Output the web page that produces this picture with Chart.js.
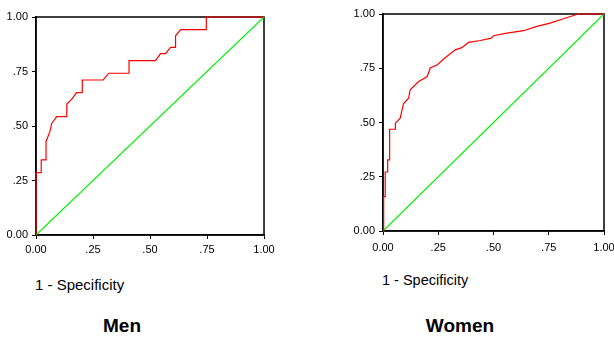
<!DOCTYPE html>
<html>
<head>
<meta charset="utf-8">
<script src="https://cdn.jsdelivr.net/npm/chart.js@4/dist/chart.umd.min.js"></script>
<style>
  html, body { margin: 0; padding: 0; background: #fff; overflow: hidden; width: 614px; height: 337px; }
  .box { position: absolute; }
  .axisTitle { position: absolute; font-family: Arial, "Liberation Sans", sans-serif; font-size: 15px; color: #000; white-space: nowrap; }
  .panelTitle { position: absolute; font-family: Arial, "Liberation Sans", sans-serif; font-size: 19px; font-weight: bold; color: #000; white-space: nowrap; transform: translateX(-50%); }
</style>
</head>
<body>
<div class="box" style="left:0;top:0;width:300px;height:262px"><canvas id="menChart"></canvas></div>
<div class="box" style="left:330px;top:0;width:300px;height:262px"><canvas id="womenChart"></canvas></div>
<div class="axisTitle" style="left:35px;top:276px">1 - Specificity</div>
<div class="axisTitle" style="left:382px;top:272px;font-size:14.5px">1 - Specificity</div>
<div class="panelTitle" style="left:122px;top:315px">Men</div>
<div class="panelTitle" style="left:460px;top:315px">Women</div>
<script>
// ROC points: 1 - specificity (x) and sensitivity (y)
const menFpr = [0, 0, 0.023, 0.023, 0.044, 0.044, 0.061, 0.069, 0.091, 0.135,
  0.135, 0.156, 0.178, 0.203, 0.203, 0.295, 0.319, 0.408, 0.408, 0.524,
  0.546, 0.568, 0.59, 0.612, 0.612, 0.635, 0.747, 0.747, 1];
const menTpr = [0, 0.286, 0.286, 0.345, 0.345, 0.429, 0.474, 0.512, 0.543, 0.543,
  0.601, 0.622, 0.653, 0.653, 0.711, 0.711, 0.742, 0.742, 0.8, 0.8,
  0.832, 0.832, 0.861, 0.861, 0.914, 0.942, 0.942, 1, 1];

const womenFpr = [0, 0.003, 0.010, 0.010, 0.019, 0.021, 0.030, 0.030, 0.056, 0.056,
  0.078, 0.086, 0.093, 0.116, 0.123, 0.16, 0.2, 0.214, 0.246, 0.267,
  0.29, 0.327, 0.357, 0.387, 0.44, 0.49, 0.5, 0.56, 0.636, 0.696,
  0.756, 0.816, 0.884, 1];
const womenTpr = [0, 0.158, 0.158, 0.272, 0.272, 0.328, 0.328, 0.469, 0.469, 0.497,
  0.52, 0.558, 0.587, 0.612, 0.651, 0.688, 0.712, 0.751, 0.766, 0.786,
  0.805, 0.835, 0.845, 0.869, 0.878, 0.889, 0.9, 0.912, 0.923, 0.943,
  0.958, 0.978, 1, 1];

// reference diagonal
const chanceX = [0, 1];
const chanceY = [0, 1];

const tickValues = [0, 0.25, 0.5, 0.75, 1];
const tickLabels = ['0.00', '.25', '.50', '.75', '1.00'];

const FONT = 'Arial, "Liberation Sans", sans-serif';

function pts(xs, ys) {
  return xs.map((x, i) => ({ x: x, y: ys[i] }));
}

const frame = {
  id: 'frame',
  beforeDatasetsDraw(chart) {
    const { ctx, chartArea: a } = chart;
    ctx.save();
    ctx.strokeStyle = '#000';
    ctx.lineWidth = 1.5;
    ctx.strokeRect(a.left, a.top, a.right - a.left, a.bottom - a.top);
    ctx.restore();
  }
};

function axis(fit, pad) {
  return {
    type: 'linear',
    min: 0,
    max: 1,
    afterBuildTicks: (s) => { s.ticks = tickValues.map(v => ({ value: v })); },
    afterFit: fit,
    grid: { drawOnChartArea: false, drawTicks: true, tickLength: 4, color: '#000', lineWidth: 1 },
    border: { display: true, color: '#000', width: 1.5 },
    ticks: {
      color: '#000',
      padding: pad,
      font: { family: FONT, size: 11 },
      maxRotation: 0,
      autoSkip: false,
      callback: (v) => tickLabels[tickValues.indexOf(v)]
    }
  };
}

function rocChart(id, fpr, tpr, yWidth, xHeight, xPad, pad) {
  return new Chart(document.getElementById(id), {
    type: 'scatter',
    data: {
      datasets: [
        { data: pts(fpr, tpr), showLine: true, borderColor: '#ff0000', borderWidth: 1.2, pointRadius: 0, clip: 4 },
        { data: pts(chanceX, chanceY), showLine: true, borderColor: '#11f011', borderWidth: 1.2, pointRadius: 0, clip: 4 }
      ]
    },
    options: {
      responsive: true,
      maintainAspectRatio: false,
      animation: false,
      layout: { padding: pad },
      plugins: { legend: { display: false }, tooltip: { enabled: false } },
      scales: {
        x: axis((s) => { s.height = xHeight; }, xPad),
        y: axis((s) => { s.width = yWidth; }, 4)
      }
    },
    plugins: [frame]
  });
}

rocChart('menChart', menFpr, menTpr, 36, 27, 4, { top: 17, right: 36, left: 0, bottom: 0 });
rocChart('womenChart', womenFpr, womenTpr, 53, 31, 6, { top: 14, right: 26, left: 0, bottom: 0 });
</script>
</body>
</html>
